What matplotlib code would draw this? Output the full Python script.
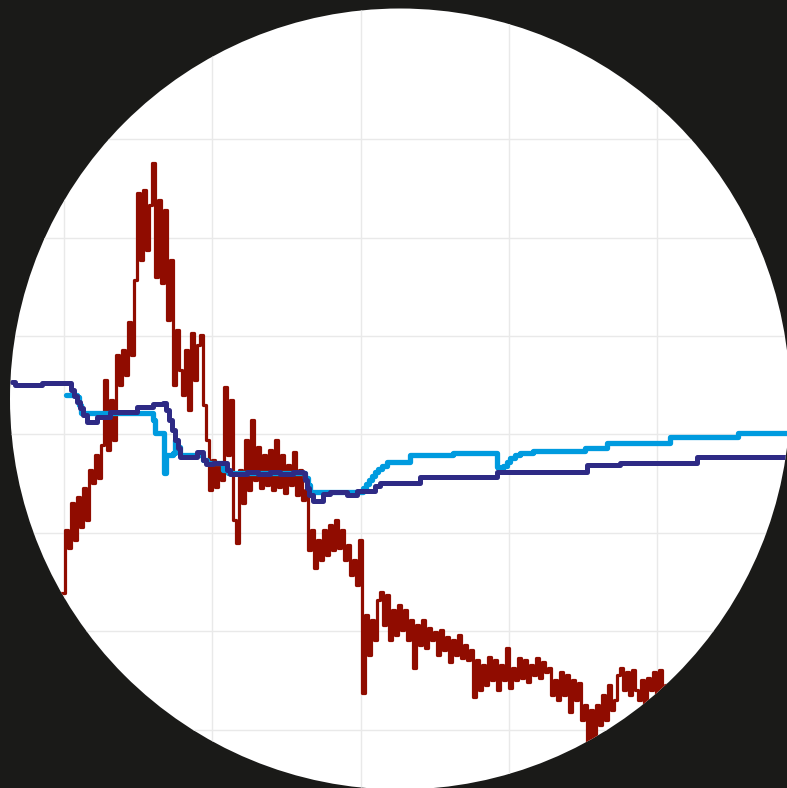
import numpy as np
import matplotlib
matplotlib.use("Agg")
import matplotlib.pyplot as plt
from matplotlib.patches import Circle

# price series (one sample every 3 days), index level
red_vals = [
    137, 200, 182, 227, 190, 233, 203, 242, 210, 260, 247, 275, 252, 285, 350, 280,
    330, 290, 375, 345, 380, 355, 408, 375, 450, 537, 470, 540, 480, 525, 567, 453,
    530, 447, 520, 410, 470, 345, 400, 360, 335, 380, 320, 397, 350, 385, 395, 325,
    290, 240, 270, 243, 265, 250, 343, 275, 330, 210, 187, 260, 227, 290, 240, 310,
    250, 283, 242, 275, 245, 280, 240, 290, 243, 275, 237, 265, 245, 278, 235, 260,
    230, 240, 180, 200, 162, 190, 170, 200, 175, 205, 180, 210, 182, 200, 170, 185,
    155, 170, 145, 190, 37, 115, 75, 110, 90, 130, 138, 105, 135, 90, 120, 95,
    125, 100, 120, 90, 110, 62, 105, 85, 110, 82, 102, 90, 98, 75, 100, 80,
    93, 68, 90, 75, 95, 72, 85, 70, 80, 33, 70, 40, 65, 45, 73, 50,
    70, 40, 65, 50, 82, 42, 62, 50, 72, 52, 70, 48, 65, 55, 72, 52,
    68, 58, 62, 35, 50, 30, 58, 35, 55, 18, 50, 30, 47, 10, 25, -15,
    20, -10, 25, 5, 35, 10, 45, 20, 30, 55, 62, 40, 58, 35, 60, 40,
    30, 50, 25, 52, 40, 58, 35, 60, 40, 45, 30, 40, 25,
]
red_x = np.arange(len(red_vals)) * 3

# running estimate A (light blue)
blue_x = [4, 15, 17, 19, 88, 91, 93, 102, 104, 111, 113, 115, 118, 141, 145, 161,
          166, 243, 246, 248, 301, 304, 307, 310, 313, 316, 320, 325, 348, 391,
          435, 437, 441, 445, 448, 453, 458, 471, 523, 545, 608, 676, 728]
blue_y = [335, 333, 325, 317, 317, 310, 297, 257, 275, 277, 290, 283, 275, 270, 267, 260,
          257, 252, 245, 238, 242, 246, 250, 254, 258, 261, 264, 268, 275, 277,
          263, 260, 264, 268, 272, 275, 277, 279, 282, 287, 293, 297, 297]

# running estimate B (navy)
navy_x = [-50, -47, -20, 6, 9, 12, 15, 18, 21, 25, 35, 48, 75, 91, 101, 104, 107, 110,
          113, 116, 118, 135, 141, 144, 151, 165, 168, 185, 196, 208, 218, 231, 241,
          243, 245, 247, 251, 261, 268, 285, 295, 313, 318, 358, 435, 525, 558, 635, 728]
navy_y = [348, 345, 347, 347, 340, 334, 328, 322, 315, 308, 313, 318, 323, 326, 327, 320,
          310, 300, 290, 282, 273, 278, 270, 266, 267, 260, 256, 258, 256, 258, 256, 258,
          257, 250, 242, 235, 229, 236, 238, 235, 239, 244, 247, 253, 258, 265, 267, 273, 273]

fig = plt.figure(figsize=(7.87, 7.88), dpi=100, facecolor="#1a1a18")
ax = fig.add_axes([0, 0, 1, 1])
ax.set_facecolor("white")

circle = Circle((400 / 787, 1 - 399 / 788), 390 / 787, transform=ax.transAxes)
ax.patch.set_clip_path(circle)

ax.plot(red_x, red_vals, color="#900c00", lw=2.3, drawstyle="steps-post",
        clip_path=circle, zorder=2)
ax.plot(blue_x, blue_y, color="#009bdf", lw=3.8, drawstyle="steps-post",
        solid_capstyle="round", solid_joinstyle="round", clip_path=circle, zorder=3)
ax.plot(navy_x, navy_y, color="#2e2a85", lw=3.6, drawstyle="steps-post",
        solid_capstyle="round", solid_joinstyle="round", clip_path=circle, zorder=4)

ax.set_xlim(-62, 725)
ax.set_ylim(-58, 730)
ax.set_xticks([2, 150, 299, 447, 595])
ax.set_yticks([0, 99, 197, 296, 394, 492, 591])
ax.grid(True, color="#e9e9e9", lw=1)
ax.set_axisbelow(True)
ax.tick_params(length=0, labelbottom=False, labelleft=False)
for s in ax.spines.values():
    s.set_visible(False)
for gl in ax.get_xgridlines() + ax.get_ygridlines():
    gl.set_clip_path(circle)

fig.savefig("out.png", dpi=100, facecolor=fig.get_facecolor())
